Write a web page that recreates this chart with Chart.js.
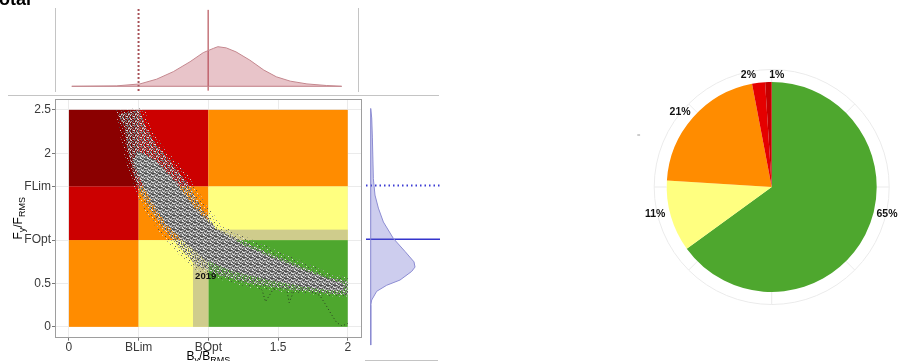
<!DOCTYPE html>
<html>
<head>
<meta charset="utf-8">
<script src="https://cdn.jsdelivr.net/npm/chart.js@4.4.1/dist/chart.umd.min.js"></script>
<style>
  html, body { margin: 0; padding: 0; background: #fff; width: 898px; height: 361px; overflow: hidden; }
  body { position: relative; }
  canvas { position: absolute; }
  #cTop   { left: 0;     top: 0;  }
  #cMain  { left: 0;     top: 90px; }
  #cRight { left: 360px; top: 90px; }
  #cPie   { left: 630px; top: 60px; }
</style>
</head>
<body>
<canvas id="cTop" width="360" height="96"></canvas>
<canvas id="cMain" width="366" height="271"></canvas>
<canvas id="cRight" width="84" height="271"></canvas>
<canvas id="cPie" width="268" height="254"></canvas>
<script>
// ---- Reference points (relative to RMS) ----
const B_LIM = 0.5, B_OPT = 1.0;
const F_LIM = 1.62, F_OPT = 1.0;

const B_TICKS = [0, B_LIM, B_OPT, 1.5, 2];
const B_TICK_LABELS = ['0', 'BLim', 'BOpt', '1.5', '2'];
const F_TICKS = [0, 0.5, F_OPT, F_LIM, 2, 2.5];
const F_TICK_LABELS = ['0', '0.5', 'FOpt', 'FLim', '2', '2.5'];

// ---- Status zones: B breaks, F breaks, colours (rows from low F to high F) ----
const ZONE_B = [0, B_LIM, B_OPT, 2];
const ZONE_F = [0, F_OPT, F_LIM, 2.5];
const ZONE_COLORS = [
  ['#FF8C00', '#FFFF80', '#4EA72E'],
  ['#CC0000', '#FF8C00', '#FFFF80'],
  ['#8B0000', '#CC0000', '#FF8C00']
];
const BUFFER_B = 0.89, BUFFER_F = 1.12;
const BUFFER_COLOR = '#CFCC8C';

// ---- Uncertainty cloud envelopes [B, F] ----
const cloudFringeUpper = [[0.54,2.52],[0.59,2.30],[0.67,2.09],[0.77,1.92],[0.84,1.78],[0.90,1.64],[0.98,1.42],[1.10,1.16],[1.28,1.03],[1.46,0.90],[1.70,0.74],[1.88,0.61],[2.00,0.57]];
const cloudFringeLower = [[0.33,2.50],[0.36,2.30],[0.38,2.09],[0.43,1.78],[0.48,1.52],[0.55,1.32],[0.65,1.09],[0.77,0.86],[0.90,0.66],[1.07,0.55],[1.30,0.45],[1.55,0.40],[1.78,0.37],[2.00,0.33]];
const cloudOuterUpper = [[0.51,2.50],[0.55,2.30],[0.63,2.09],[0.73,1.90],[0.79,1.78],[0.86,1.63],[0.94,1.40],[1.06,1.13],[1.25,0.99],[1.42,0.86],[1.66,0.70],[1.85,0.57],[2.00,0.53]];
const cloudOuterLower = [[0.35,2.45],[0.40,2.30],[0.415,2.09],[0.46,1.78],[0.51,1.55],[0.58,1.36],[0.68,1.13],[0.80,0.90],[0.92,0.70],[1.085,0.59],[1.32,0.49],[1.56,0.435],[1.78,0.40],[2.00,0.36]];
const cloudCoreUpper = [[0.50,2.02],[0.62,1.92],[0.77,1.66],[0.90,1.37],[1.05,1.13],[1.24,0.95],[1.47,0.79],[1.71,0.64],[1.88,0.54],[1.97,0.50]];
const cloudCoreLower = [[0.46,1.92],[0.52,1.67],[0.60,1.43],[0.69,1.20],[0.84,0.96],[0.98,0.77],[1.17,0.64],[1.42,0.545],[1.66,0.47],[1.88,0.42],[1.97,0.42]];

// ---- Projection trail [B, F] ----
const trajectory = [[1.37,0.51],[1.41,0.29],[1.46,0.42],[1.52,0.47],[1.56,0.45],[1.58,0.28],[1.61,0.40],[1.70,0.44],[1.80,0.36],[1.84,0.26],[1.88,0.15],[1.92,0.05],[1.96,0.01],[2.00,0.04]];

// ---- Last assessment year ----
const lastYearLabel = '2019';
const lastYearB = 1.11;
const lastYearF = 0.81;

// ---- Marginal densities ----
const densityB = [[0.02,0],[0.34,0.01],[0.51,0.06],[0.63,0.18],[0.75,0.37],[0.87,0.62],[0.965,0.85],[1.04,0.96],[1.07,1.0],[1.13,0.97],[1.20,0.87],[1.30,0.66],[1.40,0.41],[1.49,0.24],[1.59,0.13],[1.71,0.06],[1.85,0.02],[1.96,0]];
const densityF = [[2.51,0],[2.40,0.023],[2.17,0.038],[1.70,0.06],[1.51,0.097],[1.36,0.173],[1.20,0.286],[1.01,0.512],[0.86,0.774],[0.74,0.977],[0.68,1.0],[0.63,0.926],[0.53,0.661],[0.47,0.361],[0.40,0.135],[0.30,0.023],[0.24,0],[-0.22,0]];

// ---- Status share ----
const pieCategories = ['Sostenible', 'Precaución', 'Sobrepesca', 'Riesgo', 'Crítico'];
const pieValues = [65, 11, 21, 2, 1];
const pieColors = ['#4EA72E', '#FFFF80', '#FF8C00', '#E50000', '#C40000'];

Chart.defaults.font.family = '"Liberation Sans", Arial, sans-serif';
Chart.defaults.animation = false;
Chart.defaults.events = [];
Chart.defaults.plugins.legend.display = false;
Chart.defaults.plugins.tooltip.enabled = false;

const toXY = arr => arr.map(([x, y]) => ({ x, y }));
const polygon = (upper, lower) => toXY(upper.concat(lower.slice().reverse()));

function makePattern(ctx, rows, palette) {
  const c = document.createElement('canvas');
  c.width = rows[0].length; c.height = rows.length;
  const g = c.getContext('2d');
  rows.forEach((row, y) => [...row].forEach((ch, x) => {
    if (palette[ch]) { g.fillStyle = palette[ch]; g.fillRect(x, y, 1, 1); }
  }));
  return ctx.createPattern(c, 'repeat');
}

function drawSubText(ctx, parts, size) {
  // parts: [text, isSubscript]; drawn centred on the origin, baseline at y = 0
  const subSize = Math.round(size * 0.72);
  let total = 0;
  parts.forEach(([t, sub]) => {
    ctx.font = (sub ? subSize : size) + 'px "Liberation Sans", Arial, sans-serif';
    total += ctx.measureText(t).width;
  });
  let x = -total / 2;
  parts.forEach(([t, sub]) => {
    ctx.font = (sub ? subSize : size) + 'px "Liberation Sans", Arial, sans-serif';
    ctx.fillText(t, x, sub ? 3 : 0);
    x += ctx.measureText(t).width;
  });
}

const lineStub = { pointRadius: 0, fill: false, tension: 0 };
const shapeStub = { ...lineStub, fill: 'shape', borderColor: 'rgba(0,0,0,0)', borderWidth: 0 };

// ================= Top marginal (B) =================
new Chart(document.getElementById('cTop'), {
  type: 'line',
  data: {
    datasets: [
      { ...lineStub, data: toXY(densityB), fill: 'shape', backgroundColor: 'rgba(180,60,75,0.3)', borderColor: '#C4878E', borderWidth: 1 },
      { ...lineStub, data: [{ x: densityB[0][0], y: 0 }, { x: densityB[densityB.length - 1][0], y: 0 }], borderColor: '#C4878E', borderWidth: 1 },
      { ...lineStub, data: [{ x: B_OPT, y: -0.11 }, { x: B_OPT, y: 1.93 }], borderColor: '#A8303A', borderWidth: 1 },
      { ...lineStub, data: [{ x: B_LIM, y: -0.11 }, { x: B_LIM, y: 1.98 }], borderColor: '#8B1A22', borderWidth: 2, borderDash: [1.5, 2.5] }
    ]
  },
  options: {
    responsive: false, devicePixelRatio: 1,
    layout: { padding: { left: 54.5, right: 1.5, top: 8, bottom: 4 } },
    scales: {
      x: { type: 'linear', display: false, min: -0.104, max: 2.0805 },
      y: { type: 'linear', display: false, min: -0.144, max: 1.977 }
    }
  },
  plugins: [{
    id: 'topFrame',
    afterDraw(chart) {
      const { ctx, chartArea: a } = chart;
      ctx.save();
      ctx.strokeStyle = '#C4C4C4'; ctx.lineWidth = 1;
      ctx.beginPath();
      ctx.moveTo(Math.round(a.left) + 0.5, a.top); ctx.lineTo(Math.round(a.left) + 0.5, a.bottom);
      ctx.moveTo(Math.round(a.right) - 0.5, a.top); ctx.lineTo(Math.round(a.right) - 0.5, a.bottom);
      ctx.stroke();
      ctx.fillStyle = '#000';
      ctx.font = 'bold 18px "Liberation Sans", Arial, sans-serif';
      ctx.textAlign = 'right'; ctx.textBaseline = 'alphabetic';
      ctx.fillText('Total', 31, 4.5);
      ctx.restore();
    }
  }]
});

// ================= Main phase plot =================
const mainCanvas = document.getElementById('cMain');
const mainCtx = mainCanvas.getContext('2d');
const corePattern = makePattern(mainCtx, [
  'gdlgwgd',
  'lgdgglw',
  'dwgldgg',
  'glgwgdl',
  'wgdglgw',
  'gldgwgd',
  'dgwlgdg'
], { g: '#7A7A7A', d: '#4A4A4A', w: '#DADADA', l: '#9E9E9E' });
const outerPattern = makePattern(mainCtx, [
  'lg.dw.g',
  '.gd.lw.',
  'w.gl.dg',
  'g.w.gl.',
  '.dg.w.l',
  'wl.gd.g',
  '.g.lw.d'
], { g: 'rgba(125,125,125,0.95)', d: 'rgba(70,70,70,0.9)', w: 'rgba(230,230,230,0.95)', l: 'rgba(175,175,175,0.95)' });
const fringePattern = makePattern(mainCtx, [
  '..g....',
  '.....w.',
  'd......',
  '...l...',
  '......g',
  '.w.....',
  '....d..'
], { g: 'rgba(120,120,120,0.9)', d: 'rgba(70,70,70,0.85)', w: 'rgba(230,230,230,0.9)', l: 'rgba(170,170,170,0.9)' });

new Chart(mainCanvas, {
  type: 'line',
  data: {
    datasets: [
      { ...shapeStub, data: polygon(cloudFringeUpper, cloudFringeLower), backgroundColor: fringePattern },
      { ...shapeStub, data: polygon(cloudOuterUpper, cloudOuterLower), backgroundColor: outerPattern },
      { ...shapeStub, data: polygon(cloudCoreUpper, cloudCoreLower), backgroundColor: corePattern },
      { ...lineStub, data: toXY(trajectory), borderColor: 'rgba(30,30,30,0.85)', borderWidth: 0.9, borderDash: [1, 2.5] },
      { data: [{ x: lastYearB, y: lastYearF }], showLine: false, pointRadius: 3.5, pointBackgroundColor: '#000', pointBorderWidth: 0 }
    ]
  },
  options: {
    responsive: false, devicePixelRatio: 1,
    layout: { padding: { left: 0, right: 4.3, top: 9, bottom: 0 } },
    scales: {
      x: {
        type: 'linear', min: -0.1, max: 2.1,
        afterBuildTicks: s => { s.ticks = B_TICKS.map(v => ({ value: v })); },
        afterFit: s => { s.height = 23.3; },
        ticks: { autoSkip: false, maxRotation: 0, padding: 0, color: '#3A3A3A', font: { size: 12 }, callback: (v, i) => B_TICK_LABELS[i] },
        grid: { color: '#EBEBEB', tickColor: '#777', tickLength: 3, tickWidth: 1 },
        border: { display: false }
      },
      y: {
        type: 'linear', min: -0.125, max: 2.625,
        afterBuildTicks: s => { s.ticks = F_TICKS.map(v => ({ value: v })); },
        afterFit: s => { s.width = 55; },
        ticks: { autoSkip: false, padding: 1, color: '#3A3A3A', font: { size: 12 }, callback: (v, i) => F_TICK_LABELS[i] },
        grid: { color: '#EBEBEB', tickColor: '#777', tickLength: 3, tickWidth: 1 },
        border: { display: false }
      }
    }
  },
  plugins: [{
    id: 'zones',
    beforeDatasetsDraw(chart) {
      const { ctx, scales: { x, y } } = chart;
      const rect = (b0, b1, f0, f1, col) => {
        const x0 = x.getPixelForValue(b0), x1 = x.getPixelForValue(b1);
        const y0 = y.getPixelForValue(f1), y1 = y.getPixelForValue(f0);
        ctx.fillStyle = col;
        ctx.fillRect(x0, y0, x1 - x0, y1 - y0);
      };
      ctx.save();
      ZONE_COLORS.forEach((row, r) => row.forEach((col, c) => {
        rect(ZONE_B[c], ZONE_B[c + 1], ZONE_F[r], ZONE_F[r + 1], col);
      }));
      rect(BUFFER_B, B_OPT, 0, F_OPT, BUFFER_COLOR);
      rect(B_OPT, ZONE_B[3], F_OPT, BUFFER_F, BUFFER_COLOR);
      ctx.restore();
    },
    afterDatasetsDraw(chart) {
      const { ctx } = chart;
      const pt = chart.getDatasetMeta(4).data[0];
      ctx.save();
      ctx.fillStyle = '#111';
      ctx.font = 'bold 9.5px "Liberation Sans", Arial, sans-serif';
      ctx.textAlign = 'center'; ctx.textBaseline = 'middle';
      ctx.fillText(lastYearLabel, pt.x - 18, pt.y + 20);
      ctx.restore();
    },
    afterDraw(chart) {
      const { ctx, chartArea: a } = chart;
      ctx.save();
      // panel border
      ctx.strokeStyle = '#9E9E9E'; ctx.lineWidth = 1;
      ctx.strokeRect(Math.round(a.left) + 0.5, Math.round(a.top) + 0.5, Math.round(a.right - a.left) - 1, Math.round(a.bottom - a.top) - 1);
      // separator above the panel
      ctx.strokeStyle = '#C4C4C4';
      ctx.beginPath(); ctx.moveTo(8, 5.5); ctx.lineTo(366, 5.5); ctx.stroke();
      // axis titles
      ctx.fillStyle = '#000'; ctx.textAlign = 'left'; ctx.textBaseline = 'alphabetic';
      ctx.save();
      ctx.translate((a.left + a.right) / 2, 270.3);
      drawSubText(ctx, [['B', false], ['y', true], ['/B', false], ['RMS', true]], 12);
      ctx.restore();
      ctx.save();
      ctx.translate(22, (a.top + a.bottom) / 2);
      ctx.rotate(-Math.PI / 2);
      drawSubText(ctx, [['F', false], ['y', true], ['/F', false], ['RMS', true]], 12);
      ctx.restore();
      ctx.restore();
    }
  }]
});

// ================= Right marginal (F) =================
new Chart(document.getElementById('cRight'), {
  type: 'line',
  data: {
    datasets: [
      { ...lineStub, data: densityF.map(([f, h]) => ({ x: h, y: f })), fill: 'shape', backgroundColor: 'rgba(90,90,200,0.3)', borderColor: '#8C8CD2', borderWidth: 1 },
      { ...lineStub, data: [{ x: 0, y: densityF[densityF.length - 1][0] }, { x: 0, y: densityF[0][0] }], borderColor: '#8C8CD2', borderWidth: 1 },
      { ...lineStub, data: [{ x: -0.106, y: F_OPT }, { x: 1.564, y: F_OPT }], borderColor: '#3434CC', borderWidth: 1.5 },
      { ...lineStub, data: [{ x: -0.106, y: F_LIM }, { x: 1.564, y: F_LIM }], borderColor: '#3C3CD4', borderWidth: 2, borderDash: [1.5, 3] }
    ]
  },
  options: {
    responsive: false, devicePixelRatio: 1,
    layout: { padding: { left: 6, right: 4, top: 9, bottom: 0 } },
    scales: {
      x: { type: 'linear', display: false, min: -0.106, max: 1.564 },
      y: { type: 'linear', display: false, min: -0.404, max: 2.619 }
    }
  },
  plugins: [{
    id: 'rightFrame',
    afterDraw(chart) {
      const { ctx } = chart;
      ctx.save();
      ctx.strokeStyle = '#C4C4C4'; ctx.lineWidth = 1;
      ctx.beginPath();
      ctx.moveTo(0, 5.5); ctx.lineTo(79, 5.5);
      ctx.moveTo(5, 270.5); ctx.lineTo(78, 270.5);
      ctx.stroke();
      ctx.restore();
    }
  }]
});

// ================= Status pie =================
const LABEL_NUDGE_DEG = [-14, 3, -2, -4.6, 4.4];
const LABEL_GAP = [13.3, 14.7, 13.5, 9, 6.8];
new Chart(document.getElementById('cPie'), {
  type: 'pie',
  data: {
    labels: pieCategories,
    datasets: [{ data: pieValues, backgroundColor: pieColors, borderWidth: 0 }]
  },
  options: {
    responsive: false, devicePixelRatio: 1,
    radius: 105,
    layout: { padding: { left: 15.4, right: 0, top: 0, bottom: 0 } }
  },
  plugins: [{
    id: 'pieDecor',
    beforeDatasetsDraw(chart) {
      const { ctx } = chart;
      const arc = chart.getDatasetMeta(0).data[0];
      const cx = arc.x, cy = arc.y, r = arc.outerRadius, R = r + 12.5;
      ctx.save();
      ctx.strokeStyle = '#EBEBEB'; ctx.lineWidth = 1;
      ctx.beginPath(); ctx.arc(cx, cy, R, 0, Math.PI * 2); ctx.stroke();
      ctx.beginPath();
      for (let k = 0; k < 8; k++) {
        const t = k * Math.PI / 4;
        ctx.moveTo(cx + r * Math.cos(t), cy + r * Math.sin(t));
        ctx.lineTo(cx + R * Math.cos(t), cy + R * Math.sin(t));
      }
      ctx.stroke();
      ctx.strokeStyle = '#9A9A9A';
      ctx.beginPath(); ctx.moveTo(cx - 134.4, cy - 52); ctx.lineTo(cx - 131.6, cy - 52); ctx.stroke();
      ctx.restore();
    },
    afterDatasetsDraw(chart) {
      const { ctx } = chart;
      ctx.save();
      ctx.fillStyle = '#111';
      ctx.font = 'bold 10.5px "Liberation Sans", Arial, sans-serif';
      ctx.textAlign = 'center'; ctx.textBaseline = 'middle';
      chart.getDatasetMeta(0).data.forEach((arc, i) => {
        const mid = (arc.startAngle + arc.endAngle) / 2 + LABEL_NUDGE_DEG[i] * Math.PI / 180;
        const rr = arc.outerRadius + LABEL_GAP[i];
        ctx.fillText(pieValues[i] + '%', arc.x + rr * Math.cos(mid), arc.y + rr * Math.sin(mid));
      });
      ctx.restore();
    }
  }]
});
</script>
</body>
</html>
